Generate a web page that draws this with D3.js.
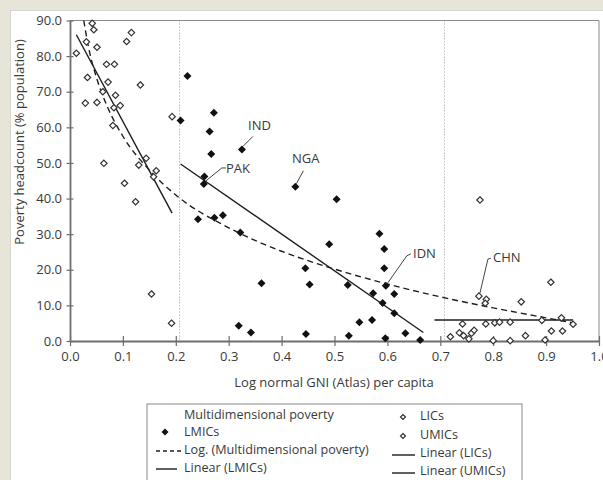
<!DOCTYPE html>
<html>
<head>
<meta charset="utf-8">
<script src="https://cdn.jsdelivr.net/npm/d3@7"></script>
<style>
  body { margin: 0; background: #e7e5da; }
  svg { display: block; font-family: "Open Sans", sans-serif; }
  .axis path, .axis line { stroke: #6e6e6e; }
  .axis text { fill: #3a3a3a; font-size: 13px; font-family: "Open Sans", sans-serif; }
  .lbl { fill: #3a3a3a; font-size: 13px; }
  .leg { fill: #3a3a3a; font-size: 12.6px; }
</style>
</head>
<body>
<script>
'use strict';

// low income countries (hollow diamonds)
const licX = [0.012, 0.042, 0.045, 0.031, 0.051, 0.116, 0.107, 0.069, 0.084, 0.033, 0.072, 0.133, 0.062, 0.086,
  0.029, 0.051, 0.083, 0.095, 0.081, 0.193, 0.064, 0.130, 0.144, 0.163, 0.158, 0.103, 0.124, 0.154, 0.192];
const licY = [80.8, 89.2, 87.4, 84.0, 82.5, 86.6, 84.1, 77.7, 77.7, 74.0, 72.7, 71.9, 70.0, 69.0,
  66.8, 67.0, 65.5, 66.1, 60.5, 63.0, 49.9, 49.4, 51.3, 47.8, 46.1, 44.3, 39.1, 13.2, 5.0];

// lower middle income countries (filled diamonds)
const lmicX = [0.209, 0.222, 0.242, 0.272, 0.264, 0.267, 0.325, 0.254, 0.253, 0.273, 0.289, 0.322, 0.362, 0.319,
  0.342, 0.426, 0.504, 0.490, 0.445, 0.453, 0.446, 0.525, 0.527, 0.547, 0.571, 0.573, 0.585, 0.594, 0.594,
  0.597, 0.613, 0.591, 0.613, 0.596, 0.634, 0.662];
const lmicY = [61.9, 74.4, 34.2, 64.1, 58.8, 52.5, 53.8, 46.2, 44.1, 34.6, 35.3, 30.5, 16.2, 4.3,
  2.4, 43.3, 39.8, 27.2, 20.4, 15.9, 2.0, 15.7, 1.5, 5.3, 5.9, 13.4, 30.1, 25.8, 20.4,
  15.5, 13.2, 10.7, 7.8, 0.8, 2.2, 0.3];

// upper middle income countries (hollow diamonds)
const umicX = [0.775, 0.909, 0.773, 0.787, 0.785, 0.853, 0.742, 0.786, 0.803, 0.812, 0.832, 0.892, 0.929, 0.951,
  0.910, 0.931, 0.861, 0.719, 0.736, 0.744, 0.754, 0.759, 0.764, 0.800, 0.832, 0.898];
const umicY = [39.6, 16.5, 12.6, 11.7, 10.6, 11.0, 4.8, 4.8, 5.1, 5.3, 5.3, 5.8, 6.5, 4.7,
  2.8, 2.8, 1.5, 1.2, 2.3, 1.5, 0.6, 2.2, 3.0, 0.1, 0.1, 0.3];

// trend lines
const logTrendX = [0.026, 0.035, 0.05, 0.07, 0.1, 0.15, 0.2, 0.3, 0.4, 0.5, 0.6, 0.7, 0.8, 0.9, 0.951];
const logTrendY = [90.0, 82.5, 74.0, 66.0, 57.5, 48.0, 41.0, 31.8, 25.2, 20.2, 16.0, 12.4, 9.3, 6.5, 5.1];
const licTrendX = [0.012, 0.193];
const licTrendY = [86.0, 35.9];
const lmicTrendX = [0.209, 0.668];
const lmicTrendY = [49.7, 2.4];
const umicTrendX = [0.689, 0.951];
const umicTrendY = [5.9, 5.9];

// income group thresholds (dotted lines)
const thresholds = [0.207, 0.708];

// labelled countries
const labelNames = ['IND', 'PAK', 'NGA', 'IDN', 'CHN'];
const labelX = [0.325, 0.253, 0.426, 0.597, 0.773];
const labelY = [53.8, 44.1, 43.3, 15.5, 12.6];

const xTicks = [0, 0.1, 0.2, 0.3, 0.4, 0.5, 0.6, 0.7, 0.8, 0.9, 1.0];
const yTicks = [0, 10, 20, 30, 40, 50, 60, 70, 80, 90];

const W = 603, H = 480;
const svg = d3.select('body').append('svg').attr('width', W).attr('height', H);

// white panel
svg.append('rect').attr('x', 10).attr('y', 10).attr('width', W - 10).attr('height', H - 10)
  .attr('fill', '#fff');
svg.append('line').attr('x1', 10.5).attr('x2', 10.5).attr('y1', 10).attr('y2', H).attr('stroke', '#d8d6cc');
svg.append('line').attr('x1', 10).attr('x2', W).attr('y1', 10.5).attr('y2', 10.5).attr('stroke', '#d8d6cc');

const x = d3.scaleLinear().domain([0, 1]).range([70, 599]);
const y = d3.scaleLinear().domain([0, 90]).range([341, 20.5]);

// plot frame (top and right)
svg.append('path')
  .attr('d', `M${x(0)},${y(90)}H${x(1)}V${y(0)}`)
  .attr('fill', 'none').attr('stroke', '#8a8a8a').attr('stroke-width', 1);

// thresholds
svg.selectAll('line.thr').data(thresholds).enter().append('line')
  .attr('class', 'thr')
  .attr('x1', d => x(d)).attr('x2', d => x(d))
  .attr('y1', y(90)).attr('y2', y(0))
  .attr('stroke', '#9a9a9a').attr('stroke-width', 1).attr('stroke-dasharray', '1,2');

// axes
const xAxis = svg.append('g').attr('class', 'axis')
  .attr('transform', `translate(0,${y(0)})`)
  .call(d3.axisBottom(x).tickValues(xTicks).tickFormat(d3.format('.1f')).tickSizeInner(5).tickSizeOuter(0));
xAxis.select('.domain').attr('stroke-width', 1.8);
xAxis.selectAll('.tick line').attr('y1', -5).attr('y2', 5).attr('stroke-width', 1.2);
xAxis.selectAll('.tick text').attr('y', 11).attr('dy', '0.71em');

const yAxis = svg.append('g').attr('class', 'axis')
  .attr('transform', `translate(${x(0)},0)`)
  .call(d3.axisLeft(y).tickValues(yTicks).tickFormat(d3.format('.1f')).tickSizeInner(3).tickSizeOuter(0));
yAxis.select('.domain').attr('stroke-width', 1.8);
yAxis.selectAll('.tick line').attr('x1', -3.5).attr('x2', 3.5).attr('stroke-width', 1.2);
yAxis.selectAll('.tick text').attr('x', -8);

// axis titles
svg.append('text').attr('class', 'lbl')
  .attr('x', 334).attr('y', 387).attr('text-anchor', 'middle')
  .text('Log normal GNI (Atlas) per capita');
svg.append('text').attr('class', 'lbl')
  .attr('transform', 'translate(24,142)rotate(-90)').attr('text-anchor', 'middle')
  .text('Poverty headcount (% population)');

// trend lines
const line = d3.line().x(d => x(d[0])).y(d => y(d[1]));
function trend(xs, ys, dash, curve) {
  const pts = xs.map((v, i) => [v, ys[i]]);
  svg.append('path')
    .attr('d', curve ? line.curve(d3.curveMonotoneX)(pts) : line.curve(d3.curveLinear)(pts))
    .attr('fill', 'none').attr('stroke', '#1e1e1e').attr('stroke-width', 1.4)
    .attr('stroke-dasharray', dash || null);
}
trend(logTrendX, logTrendY, '6,4', true);
trend(licTrendX, licTrendY);
trend(lmicTrendX, lmicTrendY);
trend(umicTrendX, umicTrendY);

// markers
const diamond = (s) => `M0,${-s}L${s},0L0,${s}L${-s},0Z`;
function points(xs, ys, filled) {
  svg.append('g').selectAll('path').data(xs.map((v, i) => [v, ys[i]])).enter().append('path')
    .attr('transform', d => `translate(${x(d[0])},${y(d[1])})`)
    .attr('d', filled ? diamond(4) : diamond(3.2))
    .attr('fill', filled ? '#111' : '#fff')
    .attr('stroke', filled ? 'none' : '#333')
    .attr('stroke-width', 1.2);
}
points(licX, licY, false);
points(umicX, umicY, false);
points(lmicX, lmicY, true);

// country labels with leader lines (offsets in px from the point)
const labelLayout = {
  IND: { tx: 248, ty: 130, path: [[11, -13], [1, -3]] },
  PAK: { tx: 226, ty: 173, path: [[22, -16], [18, -16], [2, -3]] },
  NGA: { tx: 292, ty: 163, path: [[8, -16], [1, -3]] },
  IDN: { tx: 413, ty: 258, path: [[25, -32], [21, -30], [2, -3]] },
  CHN: { tx: 493, ty: 262, path: [[12, -38], [9, -37], [1, -3]] }
};
labelNames.forEach((n, i) => {
  const px = x(labelX[i]), py = y(labelY[i]);
  const L = labelLayout[n];
  svg.append('path')
    .attr('d', d3.line()(L.path.map(p => [px + p[0], py + p[1]])))
    .attr('fill', 'none').attr('stroke', '#444').attr('stroke-width', 1);
  svg.append('text').attr('class', 'lbl').attr('x', L.tx).attr('y', L.ty).text(n);
});

// legend
const lg = svg.append('g');
lg.append('rect').attr('x', 147).attr('y', 404).attr('width', 375).attr('height', 90)
  .attr('fill', '#fff').attr('stroke', '#8a8a8a');
function legText(tx, ty, t) {
  lg.append('text').attr('class', 'leg').attr('x', tx).attr('y', ty).attr('dy', '0.35em').text(t);
}
legText(184, 415, 'Multidimensional poverty');
legText(184, 432, 'LMICs');
lg.append('path').attr('transform', 'translate(165,432)').attr('d', diamond(3.5)).attr('fill', '#111');
legText(184, 450, 'Log. (Multidimensional poverty)');
lg.append('line').attr('x1', 156).attr('x2', 181).attr('y1', 451).attr('y2', 451)
  .attr('stroke', '#1e1e1e').attr('stroke-width', 1.4).attr('stroke-dasharray', '4,3');
legText(184, 468, 'Linear (LMICs)');
lg.append('line').attr('x1', 156).attr('x2', 177).attr('y1', 469).attr('y2', 469)
  .attr('stroke', '#1e1e1e').attr('stroke-width', 1.4);

legText(420, 416, 'LICs');
lg.append('path').attr('transform', 'translate(403,417)').attr('d', diamond(2.5))
  .attr('fill', '#fff').attr('stroke', '#333').attr('stroke-width', 1.2);
legText(420, 435, 'UMICs');
lg.append('path').attr('transform', 'translate(403,436)').attr('d', diamond(2.5))
  .attr('fill', '#fff').attr('stroke', '#333').attr('stroke-width', 1.2);
legText(420, 453, 'Linear (LICs)');
lg.append('line').attr('x1', 392).attr('x2', 415).attr('y1', 455).attr('y2', 455)
  .attr('stroke', '#1e1e1e').attr('stroke-width', 1.4);
legText(420, 471, 'Linear (UMICs)');
lg.append('line').attr('x1', 392).attr('x2', 415).attr('y1', 473).attr('y2', 473)
  .attr('stroke', '#1e1e1e').attr('stroke-width', 1.4);
</script>
</body>
</html>
